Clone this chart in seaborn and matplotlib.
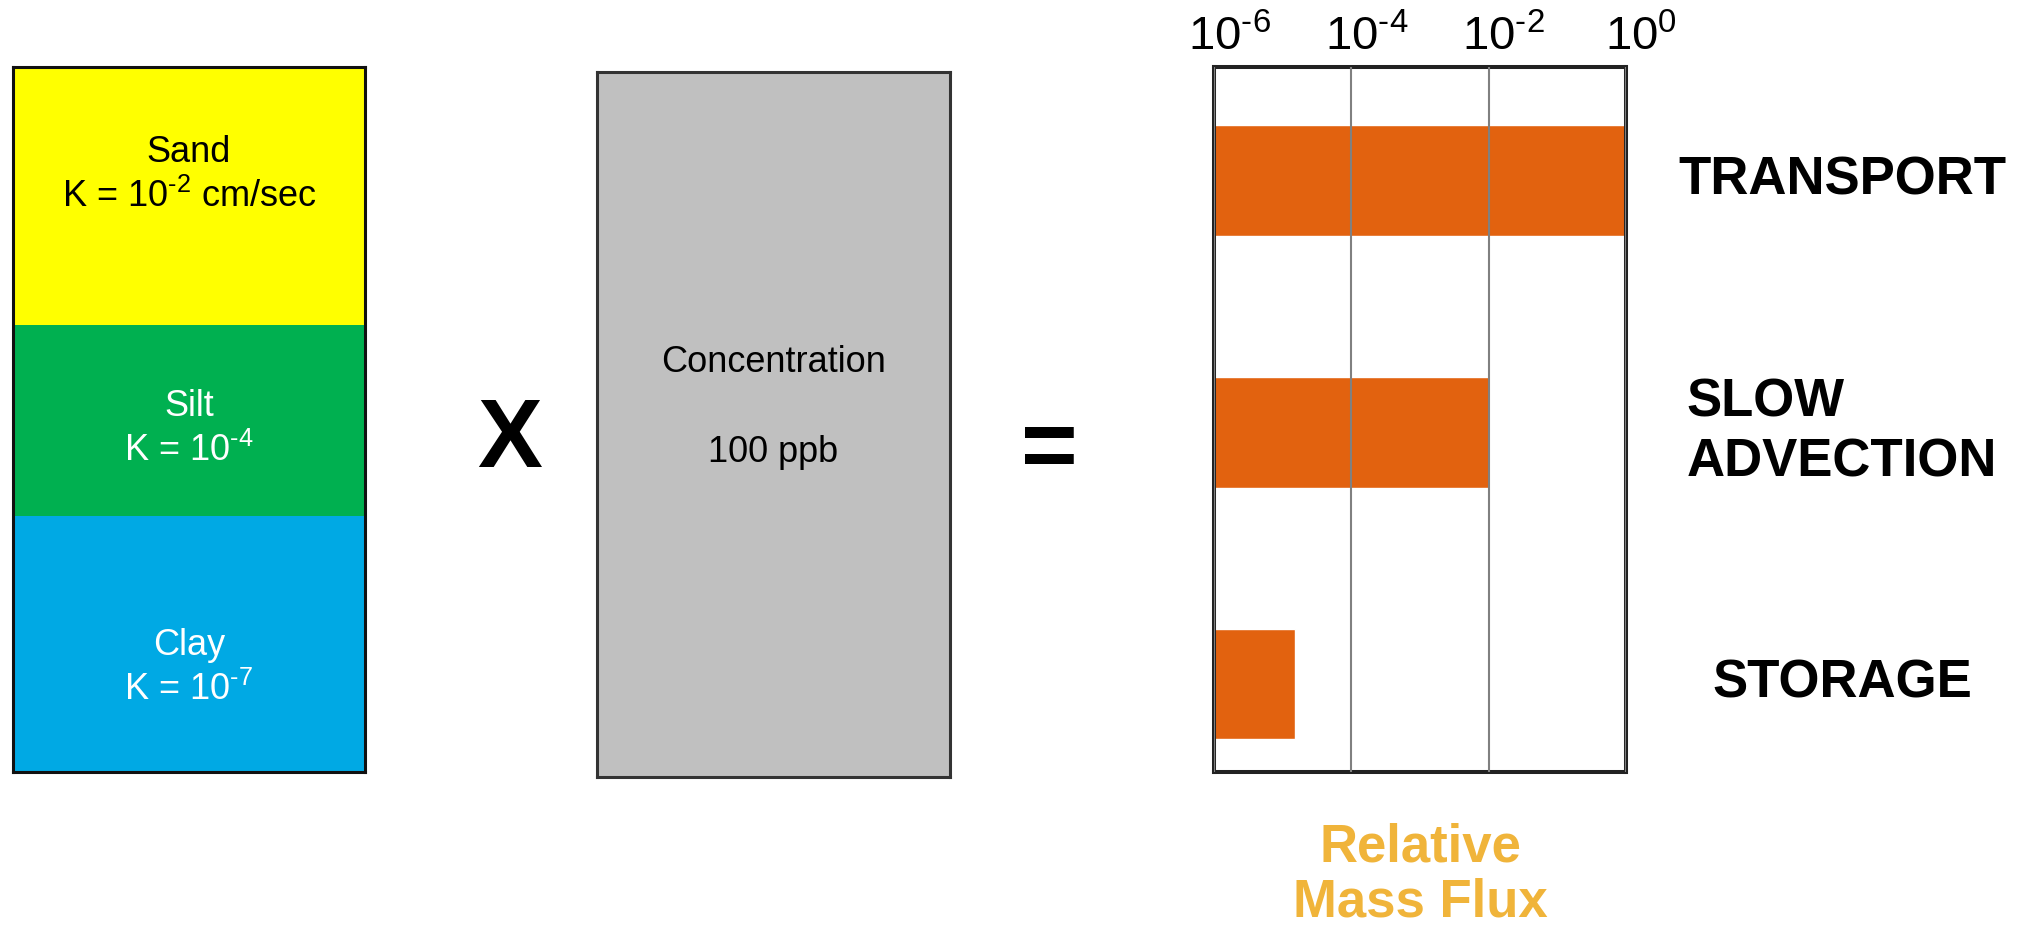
import numpy as np
import pandas as pd
import seaborn as sns
import matplotlib.pyplot as plt
import matplotlib.transforms as mtransforms
from matplotlib.ticker import NullLocator

# soil column (left panel)
soil_layers = ["Sand", "Silt", "Clay"]
soil_k_exp = ["-2", "-4", "-7"]
soil_k_unit = [" cm/sec", "", ""]
soil_thickness = [0.365, 0.272, 0.363]

# concentration box (middle panel)
conc_title = "Concentration"
conc_value = "100 ppb"

# relative mass flux (right panel)
processes = ["TRANSPORT", "SLOW\nADVECTION", "STORAGE"]
rel_flux = [1.0, 1e-2, 1.5e-5]
tick_values = [1e-6, 1e-4, 1e-2, 1e0]
tick_exps = ["-6", "-4", "-2", "0"]

sns.set_theme(style="white")
plt.rcParams["font.family"] = ["Liberation Sans", "DejaVu Sans"]
plt.rcParams["text.color"] = "black"
plt.rcParams["xtick.color"] = "black"
plt.rcParams["xtick.labelcolor"] = "black"
plt.rcParams["mathtext.fontset"] = "custom"
plt.rcParams["mathtext.rm"] = "Liberation Sans"
plt.rcParams["mathtext.it"] = "Liberation Sans:italic"
plt.rcParams["mathtext.bf"] = "Liberation Sans:bold"

layer_colors = ["#FFFF00", "#00B050", "#00A9E4"]
layer_text_colors = ["black", "white", "white"]
label_centers = [0.153, 0.514, 0.853]
bar_color = "#E2620F"
flux_label_color = "#F0B43A"


def power_label(exp):
    # superscript with a plain hyphen, like the original slide
    return r"10$^{\text{" + exp + "}}$"


fig = plt.figure(figsize=(20.23, 9.26), dpi=100)

# ---- soil column
ax_soil = fig.add_axes([0.0064, 0.1663, 0.174, 0.761])
ax_soil.set_xlim(0, 1)
ax_soil.set_ylim(1, 0)
edges = np.concatenate([[0], np.cumsum(soil_thickness)])
for i, name in enumerate(soil_layers):
    ax_soil.axhspan(edges[i], edges[i + 1], color=layer_colors[i], lw=0)
    yc = label_centers[i]
    ax_soil.text(0.5, yc - 0.032, name, ha="center", va="center",
                 fontsize=26, color=layer_text_colors[i])
    ax_soil.text(0.5, yc + 0.031, "K = " + power_label(soil_k_exp[i]) + soil_k_unit[i],
                 ha="center", va="center", fontsize=26, color=layer_text_colors[i])
ax_soil.set_xticks([])
ax_soil.set_yticks([])
for sp in ax_soil.spines.values():
    sp.set_visible(True)
    sp.set_color("#111111")
    sp.set_linewidth(2.2)

# ---- concentration box
ax_conc = fig.add_axes([0.2951, 0.1609, 0.1745, 0.761])
ax_conc.set_facecolor("#C0C0C0")
ax_conc.set_xticks([])
ax_conc.set_yticks([])
ax_conc.text(0.5, 0.588, conc_title, ha="center", va="center", fontsize=26,
             transform=ax_conc.transAxes)
ax_conc.text(0.5, 0.460, conc_value, ha="center", va="center", fontsize=26,
             transform=ax_conc.transAxes)
for sp in ax_conc.spines.values():
    sp.set_visible(True)
    sp.set_color("#333333")
    sp.set_linewidth(2.2)

# operators
fig.text(0.252, 0.523, "X", fontsize=70, fontweight="bold", ha="center", va="center")
fig.text(0.5185, 0.511, "=", fontsize=70, fontweight="bold", ha="center", va="center")

# ---- flux bars
ax_flux = fig.add_axes([0.6001, 0.1663, 0.2037, 0.761])
df = pd.DataFrame({"process": processes, "flux": rel_flux})
sns.barplot(data=df, x="flux", y="process", orient="h", color=bar_color,
            saturation=1, width=0.44, ax=ax_flux)
ax_flux.set_xscale("log")
ax_flux.set_xlim(tick_values[0], tick_values[-1])
ax_flux.set_ylim(2.35, -0.45)
ax_flux.set_xticks(tick_values)
ax_flux.set_xticklabels([power_label(e) for e in tick_exps])
ax_flux.xaxis.set_minor_locator(NullLocator())
ax_flux.xaxis.tick_top()
ax_flux.tick_params(axis="x", length=0, pad=5, labelsize=34, labelcolor="black")
ax_flux.tick_params(axis="y", left=False, labelleft=False)
shift = mtransforms.ScaledTranslation(0.15, 0, fig.dpi_scale_trans)
for lbl in ax_flux.get_xticklabels():
    lbl.set_transform(lbl.get_transform() + shift)
ax_flux.set_ylabel("")
ax_flux.grid(axis="x", color="#808080", linewidth=1.5)
ax_flux.grid(axis="y", visible=False)
ax_flux.set_axisbelow(False)
for sp in ax_flux.spines.values():
    sp.set_visible(True)
    sp.set_color("#222222")
    sp.set_linewidth(2.9)

ax_flux.xaxis.set_label_position("bottom")
ax_flux.set_xlabel("Relative\nMass Flux", fontsize=38, fontweight="bold",
                   color=flux_label_color, labelpad=36, linespacing=1.15)

blend = mtransforms.blended_transform_factory(ax_flux.transAxes, ax_flux.transData)
for i, label in enumerate(processes):
    ax_flux.text(1.524, i, label, transform=blend, ha="center", va="center",
                 fontsize=38, fontweight="bold", multialignment="left",
                 linespacing=1.25, color="black")

fig.savefig("out.png", dpi=100)
